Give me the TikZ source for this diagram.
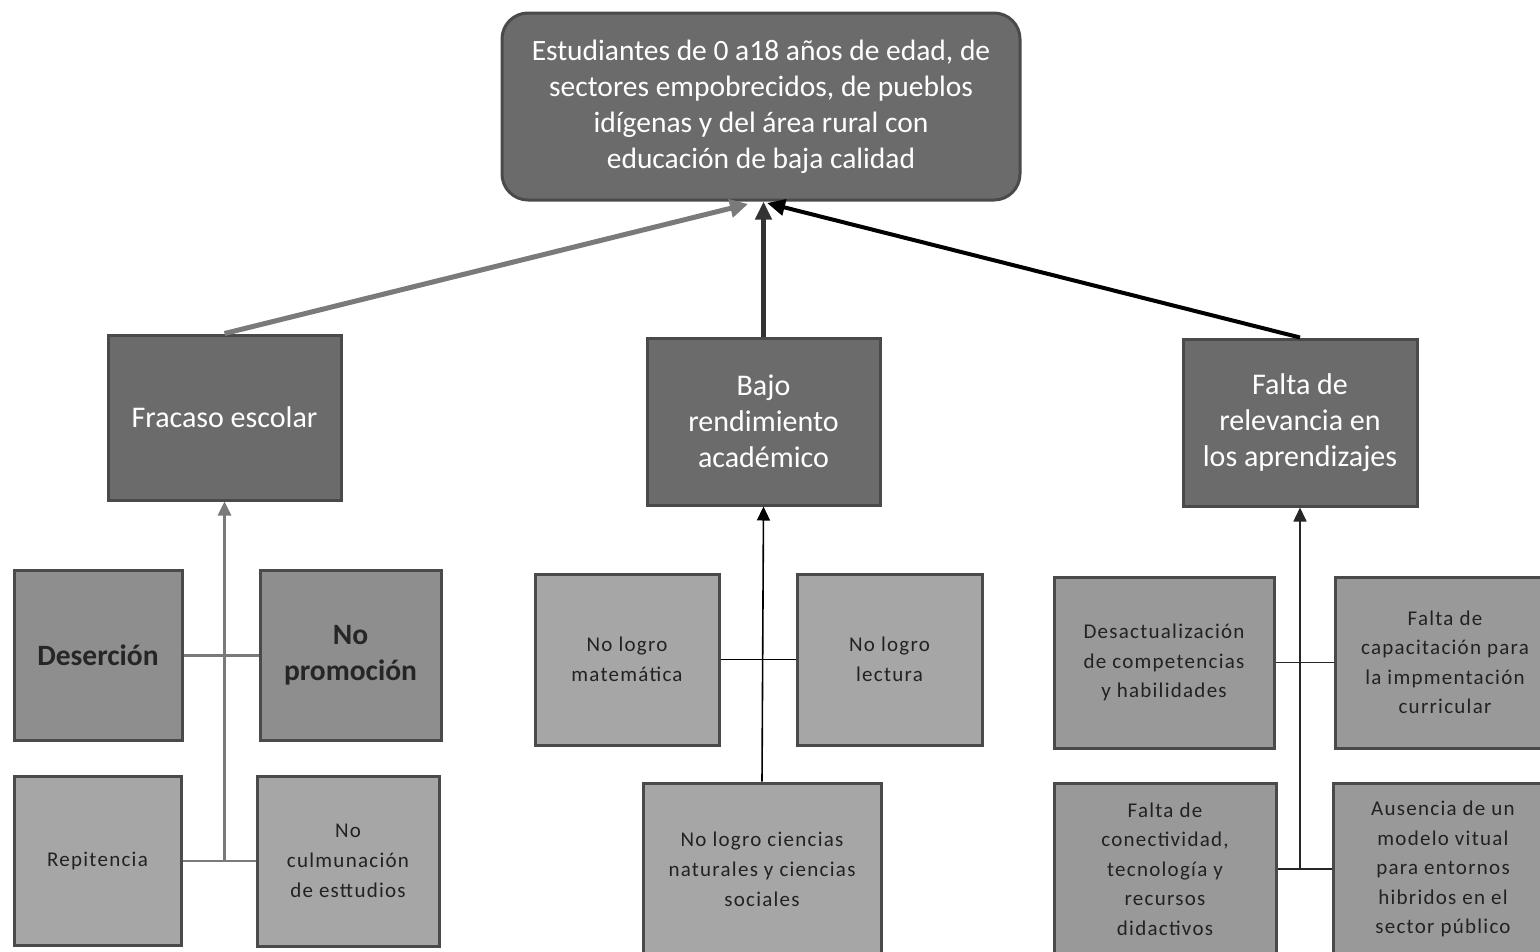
\documentclass[tikz,border=0pt]{standalone}
\usepackage{fontspec}
\setmainfont{Carlito}
\newfontfamily\spacedfont[LetterSpace=6]{Carlito}
\usetikzlibrary{arrows.meta}
\definecolor{dkfill}{HTML}{6B6B6B}
\definecolor{dkedge}{HTML}{4A4A4A}
\definecolor{mdfill}{HTML}{8E8E8E}
\definecolor{ltfill}{HTML}{A6A6A6}
\definecolor{rtfill}{HTML}{999999}
\definecolor{txtdk}{HTML}{222222}
\definecolor{greyline}{HTML}{7A7A7A}
\tikzset{
  base/.style={draw=dkedge, line width=3pt, align=center, inner sep=0pt},
  topbox/.style={base, fill=dkfill, rounded corners=26pt, text=white,
    font=\fontsize{29.5}{36}\selectfont},
  midbox/.style={base, fill=dkfill, text=white, font=\fontsize{30}{36}\selectfont},
  leafbold/.style={base, fill=mdfill, text=black!85, font=\bfseries\fontsize{29.5}{36}\selectfont},
  leaflt/.style={base, fill=ltfill, text=txtdk, font=\spacedfont\fontsize{21}{30}\selectfont},
  leafrt/.style={base, fill=rtfill, text=txtdk, font=\spacedfont\fontsize{21}{29.5}\selectfont},
  tip/.style={-{Triangle[length=14pt,width=13pt]}},
}
\begin{document}
\begin{tikzpicture}[x=1pt,y=-1pt]
\useasboundingbox[fill=white] (0,0) rectangle (1540,951);
\clip (0,0) rectangle (1540,951);
% top
\node[topbox, minimum width=518pt, minimum height=187pt] (top) at (761,106.5)
  {Estudiantes de 0 a18 años de edad, de\\sectores empobrecidos, de pueblos\\idígenas y del área rural con\\educación de baja calidad};
% level 2
\node[midbox, minimum width=233pt, minimum height=165pt] (fra) at (224.5,417.5) {Fracaso escolar};
\node[midbox, minimum width=233pt, minimum height=167pt] (baj) at (763.5,421.5) {Bajo\\rendimiento\\académico};
\node[midbox, minimum width=234pt, minimum height=167pt] (fal) at (1300,422.5) {Falta de\\relevancia en\\los aprendizajes};
% left leaves
\node[leafbold, minimum width=168pt, minimum height=170pt] (des) at (98,655) {Deserción};
\node[leafbold, minimum width=181pt, minimum height=170pt] (nop) at (350.5,655) {No\\promoción};
\node[leaflt, minimum width=167pt, minimum height=169pt] (rep) at (97.5,860.5) {Repitencia};
\node[leaflt, minimum width=182pt, minimum height=170pt] (ncu) at (348,861) {No\\culmunación\\de esttudios};
% middle leaves
\node[leaflt, minimum width=184pt, minimum height=171pt] (nlm) at (627,659.5) {No logro\\matemática};
\node[leaflt, minimum width=185pt, minimum height=171pt] (nll) at (889.5,659.5) {No logro\\lectura};
\node[leaflt, minimum width=238pt, minimum height=172pt] (nlc) at (762,869) {No logro ciencias\\naturales y ciencias\\sociales};
% right leaves
\node[leafrt, minimum width=220pt, minimum height=171pt] (dsa) at (1164,662.5) {Desactualización\\de competencias\\y habilidades};
\node[leafrt, minimum width=220pt, minimum height=171pt] (fca) at (1445,662.5) {Falta de\\capacitación para\\la impmentación\\curricular};
\node[leafrt, minimum width=222pt, minimum height=172pt] (fco) at (1165,869) {Falta de\\conectividad,\\tecnología y\\recursos\\didactivos};
\node[leafrt, minimum width=220pt, minimum height=172pt] (aus) at (1443,869) {Ausencia de un\\modelo vitual\\para entornos\\hibridos en el\\sector público};
% junction coordinates
\coordinate (jl) at (224.5,860.5);
\coordinate (jr) at (1300,869);
% left connectors
\draw[greyline, line width=3pt] (des.east) -- (nop.west);
\draw[greyline, line width=2pt] (rep.east) -- (rep.east -| ncu.west);
\draw[greyline, line width=3pt, tip] (jl) -- (fra.south);
% middle connectors
\draw[black, line width=1.6pt] (nlm.east) -- (nll.west);
\draw[black, line width=1.6pt, tip] (nlc.north) -- (baj.south);
% right connectors
\draw[black!85, line width=1.6pt] (dsa.east) -- (fca.west);
\draw[black!85, line width=1.6pt] (fco.east) -- (aus.west);
\draw[black!85, line width=1.6pt, tip] (jr) -- (fal.south);
% top connectors
\coordinate (tl) at (748,204);
\coordinate (tr) at (767,203);
\draw[greyline, line width=5pt, -{Triangle[length=18pt,width=18pt]}] (fra.north) -- (tl);
\draw[black!80, line width=4.5pt, -{Triangle[length=18pt,width=16pt]}] (baj.north) -- (top.south -| baj.north);
\draw[black, line width=4pt, -{Triangle[length=18pt,width=16pt]}] (fal.north) -- (tr);
\end{tikzpicture}
\end{document}
